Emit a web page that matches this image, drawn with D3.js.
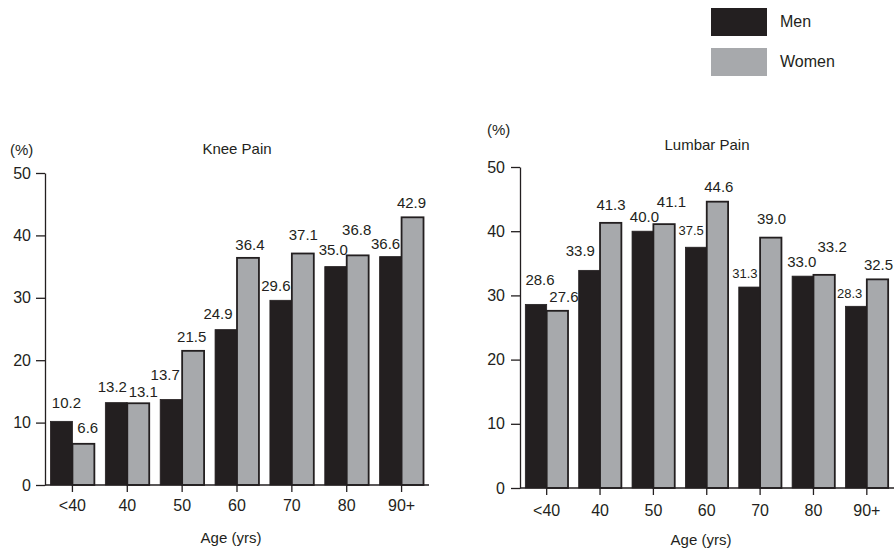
<!DOCTYPE html>
<html><head><meta charset="utf-8">
<script src="https://cdn.jsdelivr.net/npm/d3@7"></script>
<style>
html,body{margin:0;padding:0;background:#fff;}
svg{display:block;font-family:"Liberation Sans",Arial,Helvetica,sans-serif;}
</style></head><body>
<svg id="chart" width="894" height="548"></svg>
<script>
// ---- data ----
const ageGroups = ["<40", "40", "50", "60", "70", "80", "90+"];
const yTicks = [0, 10, 20, 30, 40, 50];
const series = ["Men", "Women"];
const kneeMen = [10.2, 13.2, 13.7, 24.9, 29.6, 35.0, 36.6];
const kneeWomen = [6.6, 13.1, 21.5, 36.4, 37.1, 36.8, 42.9];
const lumbarMen = [28.6, 33.9, 40.0, 37.5, 31.3, 33.0, 28.3];
const lumbarWomen = [27.6, 41.3, 41.1, 44.6, 39.0, 33.2, 32.5];

// ---- layout: value label nudges [dx, dy] relative to bar centre / bar top ----
const kneeMenNudge = [[5,-13],[-4,-11],[-6,-20],[-8,-11],[-5,-9],[-2.5,-11.5],[-5,-8]];
const kneeWomenNudge = [[4.4,-10.5],[5,-6.6],[-1.4,-9],[2,-8],[0.5,-13.5],[-1,-20],[-1,-9]];
const lumbarMenNudge = [[4,-19],[-9,-14],[1.7,-9.5],[-5,-12],[-4.6,-9],[-1,-9.5],[-6.5,-8.5]];
const lumbarWomenNudge = [[6.6,-9],[0.3,-13],[7.4,-17.4],[1.4,-10],[0.8,-13.6],[8,-22.6],[1,-9]];
const lumbarMenSmall = [false,false,false,true,true,false,true];
const noneSmall = [false,false,false,false,false,false,false];

const INK = "#231f20";
const colors = {Men: "#231f20", Women: "#a7a9ac"};

const svg = d3.select("#chart");

function panel(cfg) {
  const x = d3.scaleBand().domain(ageGroups).range([cfg.left, cfg.right])
    .paddingInner(0.2).paddingOuter(0.1);
  const xs = d3.scaleBand().domain(series).range([0, x.bandwidth()]);
  const y = d3.scaleLinear().domain([0, 50]).range([cfg.bottom, cfg.top]);
  const g = svg.append("g");

  const rows = ageGroups.map((a, i) => ({age: a, i, Men: cfg.men[i], Women: cfg.women[i]}));

  // bars
  series.forEach(s => {
    g.append("g").selectAll("rect").data(rows).join("rect")
      .attr("x", d => x(d.age) + xs(s))
      .attr("width", xs.bandwidth())
      .attr("y", d => y(d[s]))
      .attr("height", d => y(0) - y(d[s]))
      .attr("fill", colors[s])
      .attr("stroke", INK)
      .attr("stroke-width", s === "Women" ? 1.8 : 0.8);
  });

  // value labels
  const nudges = {Men: cfg.menNudge, Women: cfg.womenNudge};
  const small = {Men: cfg.menSmall, Women: noneSmall};
  series.forEach(s => {
    g.append("g").selectAll("text").data(rows).join("text")
      .attr("x", d => x(d.age) + xs(s) + xs.bandwidth() / 2 + nudges[s][d.i][0])
      .attr("y", d => y(d[s]) + nudges[s][d.i][1])
      .attr("text-anchor", "middle")
      .attr("font-size", d => small[s][d.i] ? 13 : 15)
      .attr("fill", INK)
      .text(d => d3.format(".1f")(d[s]));
  });

  // axes
  const xAxis = g.append("g").attr("transform", `translate(0,${cfg.bottom})`)
    .call(d3.axisBottom(x).tickSize(7).tickSizeOuter(0).tickPadding(cfg.xPad));
  const yAxis = g.append("g").attr("transform", `translate(${cfg.left},0)`)
    .call(d3.axisLeft(y).tickValues(yTicks).tickSize(9).tickSizeOuter(0).tickPadding(cfg.yPad));
  [xAxis, yAxis].forEach(a => {
    a.attr("font-family", null).attr("font-size", null);
    a.selectAll("path,line").attr("stroke", INK).attr("stroke-width", 1.3);
    a.selectAll("text").attr("fill", INK).attr("font-size", 16);
  });
  xAxis.select(".domain").attr("d", `M${cfg.left},0H${cfg.axisEnd}`);

  // titles
  g.append("text").attr("x", cfg.titleX).attr("y", cfg.titleY)
    .attr("text-anchor", "middle").attr("font-size", 15).attr("fill", INK).text(cfg.title);
  g.append("text").attr("x", cfg.pctX).attr("y", cfg.pctY)
    .attr("font-size", 15).attr("fill", INK).text("(%)");
  g.append("text").attr("x", cfg.xTitleX).attr("y", cfg.xTitleY)
    .attr("text-anchor", "middle").attr("font-size", 15).attr("fill", INK).text("Age (yrs)");
}

panel({
  men: kneeMen, women: kneeWomen, menNudge: kneeMenNudge, womenNudge: kneeWomenNudge,
  menSmall: noneSmall, title: "Knee Pain",
  left: 45, right: 429, axisEnd: 429, top: 173, bottom: 485, xPad: 8, yPad: 5,
  titleX: 237, titleY: 154, pctX: 10, pctY: 155, xTitleX: 231, xTitleY: 543
});
panel({
  men: lumbarMen, women: lumbarWomen, menNudge: lumbarMenNudge, womenNudge: lumbarWomenNudge,
  menSmall: lumbarMenSmall, title: "Lumbar Pain",
  left: 520, right: 893.5, axisEnd: 894, top: 167, bottom: 488, xPad: 10, yPad: 6,
  titleX: 707, titleY: 150, pctX: 487, pctY: 135, xTitleX: 701, xTitleY: 545
});

// legend
const legend = svg.append("g");
series.forEach((s, i) => {
  legend.append("rect").attr("x", 711).attr("y", 8 + i * 40).attr("width", 56).attr("height", 28)
    .attr("fill", colors[s]);
  legend.append("text").attr("x", 780).attr("y", 27 + i * 40)
    .attr("font-size", 16).attr("fill", INK).text(s);
});
</script>
</body></html>
